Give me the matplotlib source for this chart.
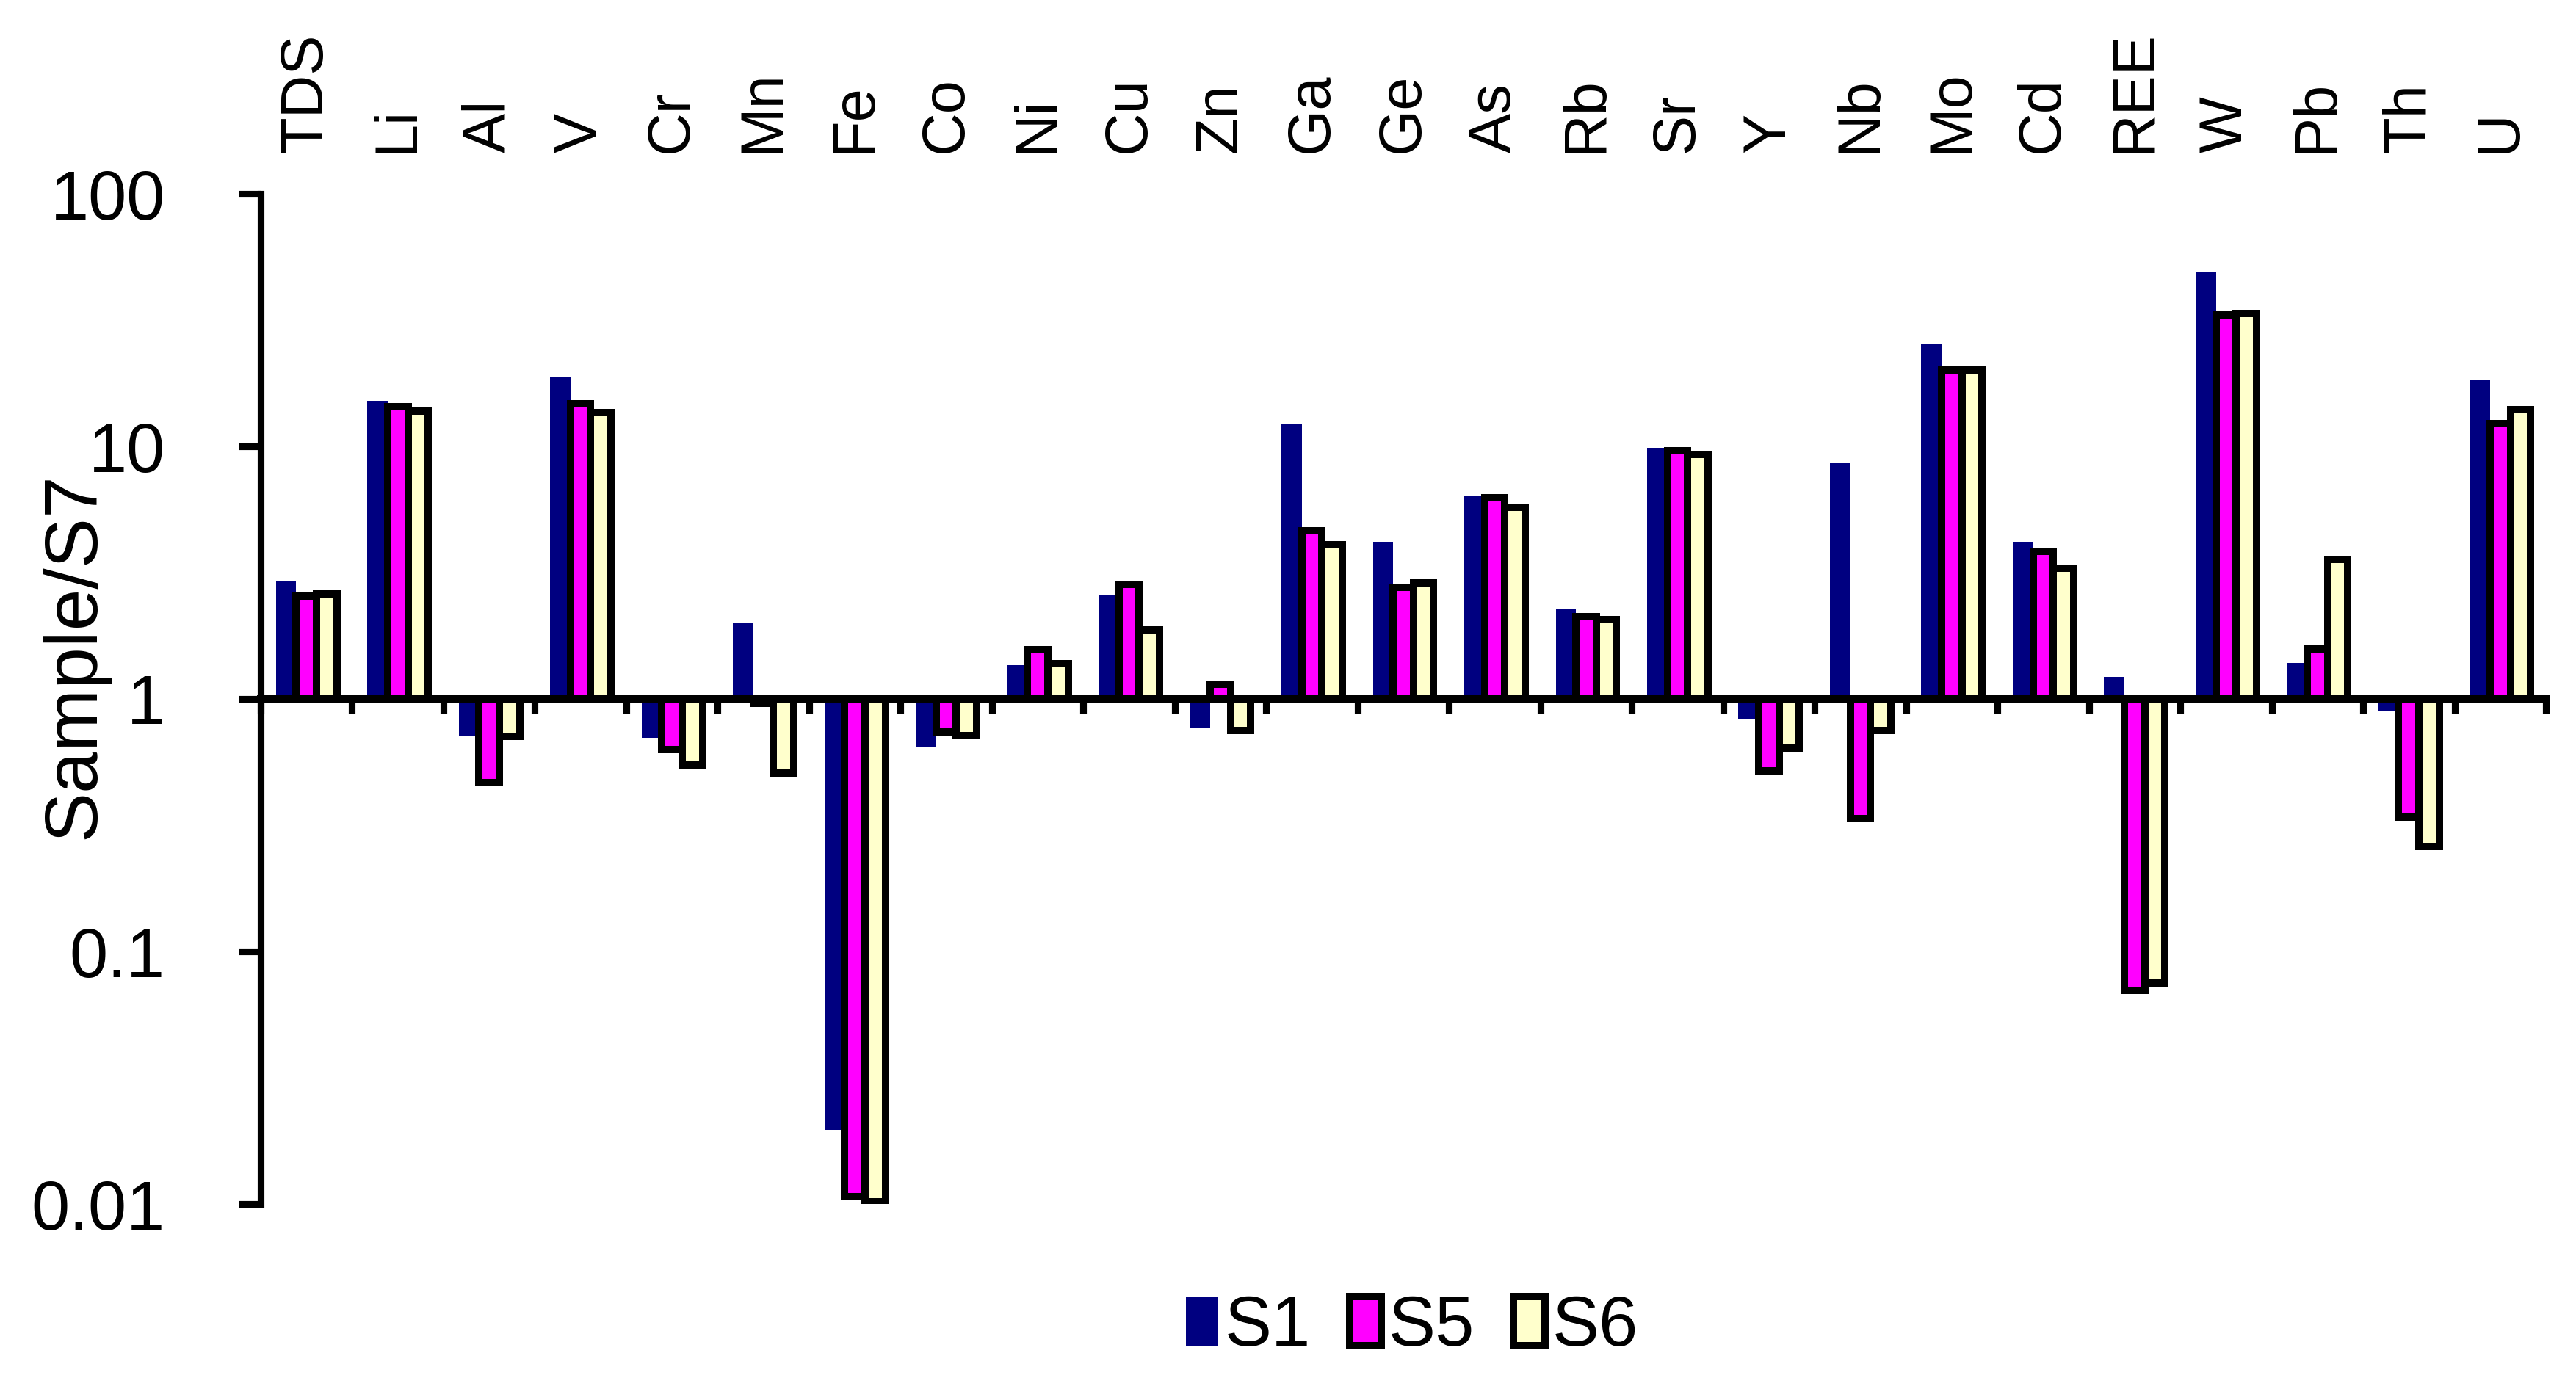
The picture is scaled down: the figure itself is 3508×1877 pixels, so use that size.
import numpy as np
import matplotlib
matplotlib.use("Agg")
import matplotlib.pyplot as plt
import matplotlib.transforms as mtransforms
from matplotlib.patches import Patch

plt.rcParams['font.family'] = ['Liberation Sans', 'DejaVu Sans']

categories = ["TDS", "Li", "Al", "V", "Cr", "Mn", "Fe", "Co", "Ni", "Cu", "Zn", "Ga", "Ge",
              "As", "Rb", "Sr", "Y", "Nb", "Mo", "Cd", "REE", "W", "Pb", "Th", "U"]
s1 = [2.94, 15.1, 0.716, 18.8, 0.70, 1.99, 0.0197, 0.647, 1.36, 2.59, 0.77, 12.2, 4.18,
      6.4, 2.28, 9.89, 0.83, 8.63, 25.6, 4.18, 1.22, 49.2, 1.39, 0.895, 18.4]
s5 = [2.55, 14.4, 0.467, 14.7, 0.63, 0.96, 0.0107, 0.74, 1.57, 2.84, 1.14, 4.64, 2.76,
      6.26, 2.12, 9.6, 0.52, 0.336, 20.0, 3.84, 0.0703, 33.1, 1.58, 0.34, 12.3]
s6 = [2.6, 13.8, 0.71, 13.6, 0.548, 0.508, 0.0102, 0.716, 1.38, 1.88, 0.75, 4.09, 2.88,
      5.75, 2.06, 9.31, 0.64, 0.75, 20.0, 3.3, 0.075, 33.5, 3.57, 0.26, 14.0]
series_names = ["S1", "S5", "S6"]
yticks = [0.01, 0.1, 1, 10, 100]
ytick_labels = ["0.01", "0.1", "1", "10", "100"]

W, H, DPI = 3508, 1877, 300
fig = plt.figure(figsize=(W / DPI, H / DPI), dpi=DPI)
ax = fig.add_axes([355 / W, 1 - 1640 / H, (3467 - 355) / W, (1640 - 264) / H])

x = np.arange(len(categories))
bw = 0.222
colors = ["#000080", "#FF00FF", "#FFFFCC"]
edges = [None, "black", "black"]
lws = [0, 2.4, 2.4]
for k, (vals, name) in enumerate(zip([s1, s5, s6], series_names)):
    v = np.array(vals)
    ax.bar(x + (k - 1) * bw, v - 1, bottom=1, width=bw, color=colors[k],
           edgecolor=edges[k] if edges[k] else colors[k], linewidth=lws[k],
           label=name, zorder=2)

ax.set_yscale('log')
ax.set_ylim(0.01, 100)
ax.set_xlim(-0.5, len(categories) - 0.5)
ax.set_yticks(yticks)
ax.set_yticklabels(ytick_labels)
ax.yaxis.set_minor_locator(matplotlib.ticker.NullLocator())
ax.tick_params(axis='y', direction='out', length=7.2, width=2.2, labelsize=22.5, pad=24)

ax.spines['top'].set_visible(False)
ax.spines['right'].set_visible(False)
ax.spines['left'].set_linewidth(2.2)
ax.spines['bottom'].set_position(('data', 1))
ax.spines['bottom'].set_linewidth(2.4)
ax.spines['bottom'].set_zorder(3)
ax.set_xticks(np.arange(-0.5, len(categories), 1.0))
ax.set_xticklabels([])
ax.xaxis.set_minor_locator(matplotlib.ticker.NullLocator())
ax.tick_params(axis='x', direction='out', length=4.8, width=2.2)

trans = mtransforms.blended_transform_factory(ax.transData, fig.transFigure)
for i, c in enumerate(categories):
    ax.text(i, 1 - 208 / H, c, rotation=90, ha='center', va='bottom',
            fontsize=19.5, transform=trans, clip_on=False)

fig.text(102 / W, 1 - 893 / H, "Sample/S7", rotation=90, ha='center', va='center',
         fontsize=24.5)

handles = [Patch(facecolor=colors[0], edgecolor=colors[0], linewidth=0),
           Patch(facecolor=colors[1], edgecolor='black', linewidth=2.4),
           Patch(facecolor=colors[2], edgecolor='black', linewidth=2.4)]
fig.legend(handles, series_names, loc='center', bbox_to_anchor=(1923 / W, 1 - 1808 / H),
           ncol=3, frameon=False, fontsize=23, handlelength=0.45, handleheight=0.7,
           handletextpad=0.1, columnspacing=0.55, borderpad=0)

fig.savefig("out.png", dpi=DPI)
